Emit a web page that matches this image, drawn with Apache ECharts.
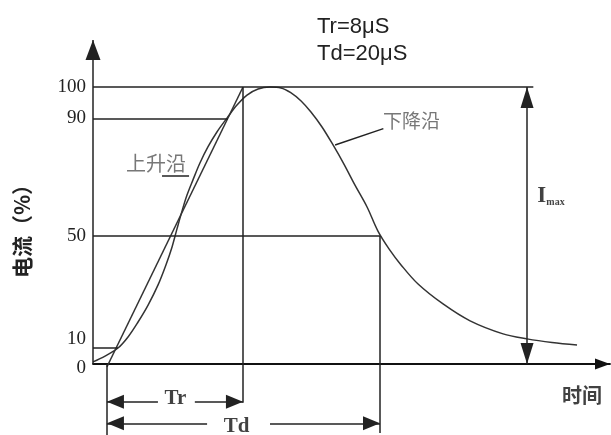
<!DOCTYPE html>
<html>
<head>
<meta charset="utf-8">
<script src="https://cdn.jsdelivr.net/npm/echarts@6/dist/echarts.min.js"></script>
<style>
html, body { margin: 0; padding: 0; background: #fff; }
#chart { width: 611px; height: 435px; }
</style>
</head>
<body>
<div id="chart"></div>
<script>
// 8/20 us surge current wave, schematic. x in us, y in % of Imax (as drawn)
const curveX = [0, 0.71, 1.47, 2.06, 2.65, 3.24, 3.82, 4.29, 4.65, 4.94, 5.24, 5.53, 5.88, 6.29,
    6.76, 7.29, 7.88, 8.47, 9.06, 9.71, 10.41,
    11.06, 11.65, 12.24, 12.82, 13.47, 14.12, 14.76, 15.41, 16.12, 16.76,
    17.41, 18.12, 19.12, 20.59, 22.18, 24.12, 25.53, 27.0, 28.47]
const curveY = [0.8, 2.9, 5.8, 9.8, 15.2, 21.3, 28.5, 35.8, 42.3, 48.8, 55.3, 61.0, 66.5, 72.6,
    78.4, 83.8, 88.8, 93.5, 97.1, 99.3, 100,
    99.7, 97.9, 95.0, 91.0, 85.6, 79.1, 72.2, 64.6, 56.7, 48.0,
    41.6, 35.8, 28.9, 21.7, 15.6, 10.9, 9.1, 7.8, 6.9]

// straight line through the 10% and 90% points
const rampX = [0.82, 8.82]
const rampY = [-1, 100]

const yTickLabels = ['0', '10', '50', '90', '100']
const yTickPos = [-1.4, 9.1, 46.2, 88.7, 100]

// reference levels: 10%, 50%, 90%, 100% and where each line stops
const levelY = [5.8, 46.2, 88.7, 100]
const levelEndX = [1.47, 16.88, 7.94, 25.9]

const t0 = 0.82
const trEnd = 8.82
const tdEnd = 16.88
const imaxX = 25.53
const trRowY = -13.6
const tdRowY = -21.4

const X_MAX = 30.41
const Y_MIN = -25.6
const Y_MAX = 117

const seg = (x1, y1, x2, y2, s1, s2, size) => [
    { coord: [x1, y1], symbol: s1 || 'none', symbolSize: size, symbolOffset: [0, '50%'] },
    { coord: [x2, y2], symbol: s2 || 'none', symbolSize: size, symbolOffset: [0, '50%'] },
]

const dim = [14, 17]
const guides = [
    // y axis
    seg(0, 0, 0, Y_MAX, null, 'triangle', [15, 20]),
    // levels
    ...levelY.map((y, i) => seg(0, y, levelEndX[i], y)),
    // time marks
    seg(t0, 0, t0, Y_MIN),
    seg(trEnd, levelY[3], trEnd, -14.0),
    seg(tdEnd, levelY[1], tdEnd, -24.9),
    // Tr / Td dimension arrows
    seg(t0, trRowY, 3.82, trRowY, 'triangle', null, dim),
    seg(5.99, trRowY, trEnd, trRowY, null, 'triangle', dim),
    seg(t0, tdRowY, 6.71, tdRowY, 'triangle', null, dim),
    seg(10.41, tdRowY, tdEnd, tdRowY, null, 'triangle', dim),
    // Imax
    seg(imaxX, 0, imaxX, levelY[3], 'triangle', 'triangle', [13, 21]),
    // leaders
    seg(4.06, 67.9, 5.65, 67.9),
    seg(14.24, 79.1, 17.08, 85.0),
]

const cjk = '"Noto Sans CJK SC"'
const serif = 'Liberation Serif'
const notes = [
    { value: [4.85, -12.4], label: { formatter: 'Tr', fontFamily: serif, fontWeight: 'bold', fontSize: 21 } },
    { value: [8.44, -22.7], label: { formatter: 'Td', fontFamily: serif, fontWeight: 'bold', fontSize: 21 } },
    {
        value: [26.94, 60.7],
        label: {
            formatter: '{a|I}{b|max}',
            rich: {
                a: { fontFamily: serif, fontWeight: 'bold', fontSize: 23, color: '#111', verticalAlign: 'bottom' },
                b: { fontFamily: serif, fontWeight: 'bold', fontSize: 10, color: '#111', verticalAlign: 'bottom' },
            },
        },
    },
    { value: [3.71, 72.4], label: { formatter: '上升沿', fontFamily: cjk, fontSize: 20, color: '#555' } },
    { value: [18.74, 87.9], label: { formatter: '下降沿', fontFamily: cjk, fontSize: 19, color: '#555' } },
    { value: [28.76, -11.2], label: { formatter: '时间', fontFamily: cjk, fontWeight: 'bold', fontSize: 20 } },
]

const chart = echarts.init(document.getElementById('chart'))
chart.setOption({
    animation: false,
    backgroundColor: '#fff',
    title: {
        text: 'Tr=8μS\nTd=20μS',
        left: 317,
        top: 13,
        padding: 0,
        textStyle: { fontFamily: 'Liberation Sans', fontSize: 22, fontWeight: 'normal', lineHeight: 27, color: '#222' },
    },
    grid: { left: 93, right: 1, top: 40, bottom: 0 },
    xAxis: {
        type: 'value',
        min: 0,
        max: X_MAX,
        axisLine: {
            onZero: true,
            symbol: ['none', 'triangle'],
            symbolSize: [11, 15],
            symbolOffset: [0, -7.5],
            lineStyle: { color: '#111', width: 1.8 },
        },
        axisTick: { show: false },
        axisLabel: { show: false },
        splitLine: { show: false },
    },
    yAxis: {
        type: 'value',
        min: Y_MIN,
        max: Y_MAX,
        axisLine: { show: false },
        axisTick: { show: false },
        splitLine: { show: false },
        axisLabel: {
            customValues: yTickPos,
            formatter: (v) => yTickLabels[yTickPos.indexOf(v)] || '',
            margin: 7,
            fontFamily: serif,
            fontSize: 19,
            color: '#222',
        },
    },
    graphic: [
        {
            type: 'text',
            x: 22,
            y: 226,
            rotation: Math.PI / 2,
            style: {
                text: '电流（%）',
                font: 'bold 21px "Noto Sans CJK SC"',
                fill: '#222',
                align: 'center',
                verticalAlign: 'middle',
                textAlign: 'center',
                textVerticalAlign: 'middle',
            },
        },
    ],
    series: [
        {
            type: 'line',
            data: curveX.map((x, i) => [x, curveY[i]]),
            smooth: 0.35,
            showSymbol: false,
            silent: true,
            clip: false,
            lineStyle: { color: '#333', width: 1.5 },
            z: 3,
        },
        {
            type: 'line',
            data: rampX.map((x, i) => [x, rampY[i]]),
            showSymbol: false,
            silent: true,
            clip: false,
            lineStyle: { color: '#333', width: 1.4 },
            markLine: {
                silent: true,
                animation: false,
                symbol: ['none', 'none'],
                label: { show: false },
                emphasis: { disabled: true },
                lineStyle: { color: '#222', width: 1.5, type: 'solid' },
                itemStyle: { color: '#111' },
                data: guides,
            },
        },
        {
            type: 'scatter',
            data: notes,
            symbolSize: 1,
            silent: true,
            itemStyle: { color: 'rgba(0,0,0,0)' },
            label: { show: true, position: 'inside', color: '#111' },
            z: 5,
        },
    ],
})
</script>
</body>
</html>
